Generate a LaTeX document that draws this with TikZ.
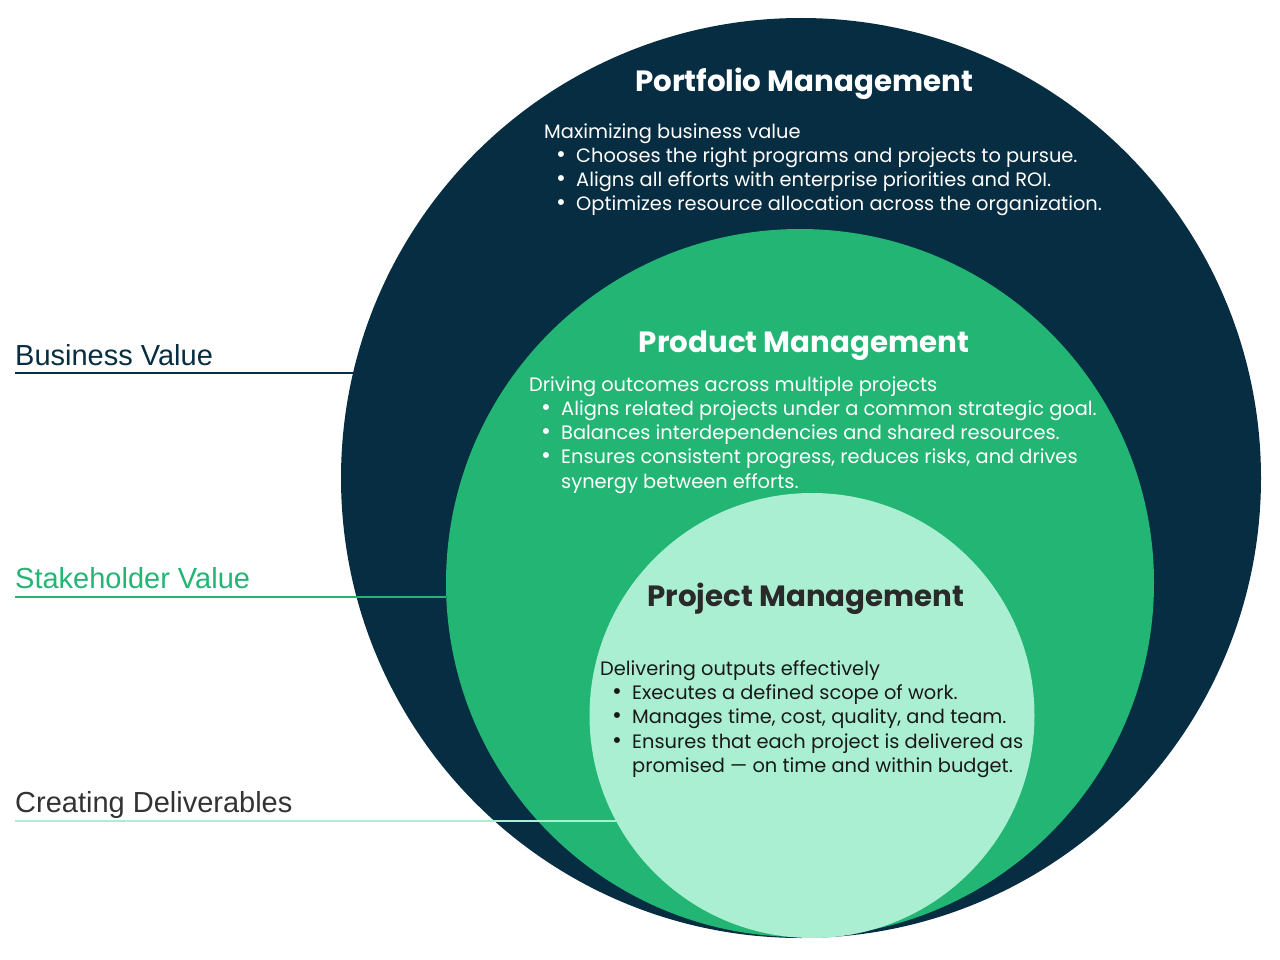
\documentclass[tikz,border=0pt]{standalone}
\usepackage{fontspec}
\usetikzlibrary{calc}
\setmainfont{Poppins}
\newfontfamily\labelfont{Liberation Sans}
\definecolor{navy}{HTML}{062D41}
\definecolor{midgreen}{HTML}{22B573}
\definecolor{mint}{HTML}{ABEFD2}
\definecolor{darktext}{HTML}{2A2A2A}
\definecolor{graytext}{HTML}{333333}
\tikzset{
  ring/.style={circle, inner sep=0pt, outer sep=0pt},
  title/.style={anchor=base, inner sep=0pt, font=\fontsize{29.3}{32}\selectfont\bfseries},
  bodyline/.style={anchor=base west, inner sep=0pt, font=\fontsize{19.4}{24}\selectfont},
  sidelabel/.style={anchor=base west, inner sep=0pt, font=\labelfont\fontsize{29}{32}\selectfont},
  guide/.style={line width=2.2pt}
}
\newcommand{\bul}{\makebox[19pt][l]{\hspace{-1pt}{\fontsize{24}{24}\selectfont\textbullet}}}
\newcommand{\nobul}{\makebox[19pt][l]{}}
\begin{document}
\begin{tikzpicture}[x=1pt,y=-1pt]
\useasboundingbox (0,0) rectangle (1280,960);
% circles
\node[ring, fill=navy, minimum size=920pt] (outer) at (801,478) {};
\node[ring, fill=midgreen, minimum size=708pt] (mid) at (800,583) {};
\node[ring, fill=mint, minimum size=445pt] (inner) at (812,715.5) {};

% Portfolio
\node[title, text=white] (pt) at (804,92) {Portfolio Management};
\node[bodyline, text=white] (p0) at (544,139) {Maximizing business value};
\node[bodyline, text=white] (p1) at (557,163) {\bul Chooses the right programs and projects to pursue.};
\node[bodyline, text=white] (p2) at (557,187) {\bul Aligns all efforts with enterprise priorities and ROI.};
\node[bodyline, text=white] (p3) at (557,211) {\bul Optimizes resource allocation across the organization.};

% Product
\node[title, text=white] (mt) at (804,352) {Product Management};
\node[bodyline, text=white] (m0) at (529,391) {Driving outcomes across multiple projects};
\node[bodyline, text=white] (m1) at (542,415) {\bul Aligns related projects under a common strategic goal.};
\node[bodyline, text=white] (m2) at (542,439) {\bul Balances interdependencies and shared resources.};
\node[bodyline, text=white] (m3) at (542,463) {\bul Ensures consistent progress, reduces risks, and drives};
\node[bodyline, text=white] (m4) at (542,488) {\nobul synergy between efforts.};

% Project
\node[title, text=darktext] (jt) at (806,606) {Project Management};
\node[bodyline, text=black!90] (j0) at (600,675) {Delivering outputs effectively};
\node[bodyline, text=black!90] (j1) at (613,699) {\bul Executes a defined scope of work.};
\node[bodyline, text=black!90] (j2) at (613,723) {\bul Manages time, cost, quality, and team.};
\node[bodyline, text=black!90] (j3) at (613,748) {\bul Ensures that each project is delivered as};
\node[bodyline, text=black!90] (j4) at (613,772) {\nobul promised --- on time and within budget.};

% side labels
\node[sidelabel, text=navy] (lb) at (15,365) {Business Value};
\node[sidelabel, text=midgreen] (ls) at (15,588) {Stakeholder Value};
\node[sidelabel, text=graytext] (lc) at (15,812) {Creating Deliverables};

\coordinate (cb) at (15,373);
\coordinate (cs) at (15,597);
\coordinate (cc) at (15,821);
\draw[guide, navy] (cb) -- ($(outer.center |- cb)+(-447.9,0)$);
\draw[guide, midgreen] (cs) -- ($(mid.center |- cs)+(-353.7,0)$);
\draw[guide, mint] (cc) -- ($(inner.center |- cc)+(-195.6,0)$);
\end{tikzpicture}
\end{document}
